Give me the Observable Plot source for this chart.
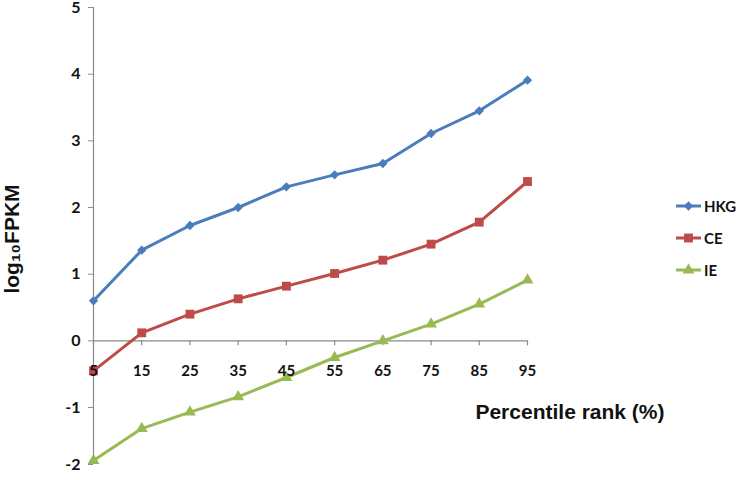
<!DOCTYPE html>
<html>
<head>
<meta charset="utf-8">
<script src="https://cdn.jsdelivr.net/npm/d3@7"></script>
<script src="https://cdn.jsdelivr.net/npm/@observablehq/plot@0.6"></script>
<style>
  html, body { margin: 0; padding: 0; background: #fff; }
  #wrap { position: relative; width: 740px; height: 480px; }
  #legend { position: absolute; left: 675px; top: 190px; font-family: Lato, "Open Sans", sans-serif; font-weight: bold; font-size: 15px; color: #111; }
  #legend .row { display: flex; align-items: center; height: 32px; }
  #legend svg { margin-right: 2px; }
</style>
</head>
<body>
<div id="wrap"></div>
<script>
// ---- data ----
const percentiles = [5, 15, 25, 35, 45, 55, 65, 75, 85, 95];
const seriesNames = ["HKG", "CE", "IE"];
const hkg = [0.60, 1.36, 1.73, 2.00, 2.31, 2.49, 2.66, 3.11, 3.45, 3.91];
const ce  = [-0.45, 0.12, 0.40, 0.63, 0.82, 1.01, 1.21, 1.45, 1.78, 2.39];
const ie  = [-1.93, -1.37, -1.08, -0.84, -0.55, -0.25, 0.00, 0.25, 0.55, 0.91];
const yTicks = [-2, -1, 0, 1, 2, 3, 4, 5];
const colors = ["#4A7EBB", "#BE4B48", "#98B954"];
const symbols = ["diamond2", "square", "triangle"];
const radii = [4.2, 5.0, 4.4];

const values = [hkg, ce, ie];
const grey = "#8a8a8a";
const tickFont = "Lato, 'Open Sans', sans-serif";
const titleFont = "'Liberation Sans', Arial, sans-serif";

const data = [];
seriesNames.forEach((s, i) => percentiles.forEach((p, j) => data.push({series: s, pct: p, value: values[i][j]})));

const fmt = d => (d < 0 ? "-" + Math.abs(d) : String(d));
// the reference's bottom interval (-2 to -1) is drawn shorter than the others
const squeeze = 57 / 66.67;
const yT = v => (v >= -1 ? v : -1 + (v + 1) * squeeze);

const dotMarks = seriesNames.map((s, i) =>
  Plot.dot(data.filter(d => d.series === s), {
    x: "pct", y: "value", symbol: () => symbols[i], fill: colors[i], stroke: "none", r: radii[i]
  })
);

const chart = Plot.plot({
  width: 740,
  height: 480,
  marginLeft: 93,
  marginRight: 213,
  marginTop: 7,
  marginBottom: 16,
  style: {background: "#fff", fontFamily: tickFont, color: "#111", overflow: "visible"},
  x: {domain: [5, 95], axis: null},
  y: {transform: yT, domain: [yT(-2), 5], axis: null},
  symbol: {type: "identity"},
  marks: [
    Plot.ruleX([5], {y1: -2, y2: 5, stroke: grey, strokeWidth: 1.2}),
    Plot.ruleY([0], {x1: 5, x2: 95, stroke: grey, strokeWidth: 1.2}),
    Plot.axisY(yTicks, {anchor: "left", tickSize: 5, tickPadding: 8, stroke: grey, tickFormat: fmt, label: null,
      fontSize: 16, fontWeight: "bold", fill: "#111"}),
    Plot.ruleX(percentiles, {x: d => d, y1: 0, y2: -0.075, stroke: grey, strokeWidth: 1.2}),
    Plot.line(data, {x: "pct", y: "value", z: "series",
      stroke: d => colors[seriesNames.indexOf(d.series)], strokeWidth: 3}),
    ...dotMarks,
    Plot.text(percentiles, {x: d => d, y: 0, dy: 30, text: d => String(d),
      fontSize: 15, fontWeight: "bold", fill: "#111"}),
    Plot.text(["log\u2081\u2080FPKM"], {frameAnchor: "left", textAnchor: "middle", rotate: -90, dx: -81, dy: 3,
      fontSize: 21, fontWeight: "bold", fill: "#111", fontFamily: titleFont}),
    Plot.text(["Percentile rank (%)"], {frameAnchor: "top-right", dx: 137, dy: 397,
      fontSize: 21, fontWeight: "bold", fill: "#111", fontFamily: titleFont})
  ]
});

const wrap = document.getElementById("wrap");
wrap.appendChild(chart);

// legend
const legend = document.createElement("div");
legend.id = "legend";
seriesNames.forEach((s, i) => {
  const row = document.createElement("div");
  row.className = "row";
  const path = d3.symbol(
    {diamond2: d3.symbolDiamond2, square: d3.symbolSquare, triangle: d3.symbolTriangle}[symbols[i]],
    Math.PI * radii[i] * radii[i]
  )();
  row.innerHTML = `<svg width="27" height="14"><line x1="1" x2="26" y1="7" y2="7" stroke="${colors[i]}" stroke-width="3"/>` +
    `<path d="${path}" transform="translate(13.5,7)" fill="${colors[i]}"/></svg><span>${s}</span>`;
  legend.appendChild(row);
});
wrap.appendChild(legend);
</script>
</body>
</html>
